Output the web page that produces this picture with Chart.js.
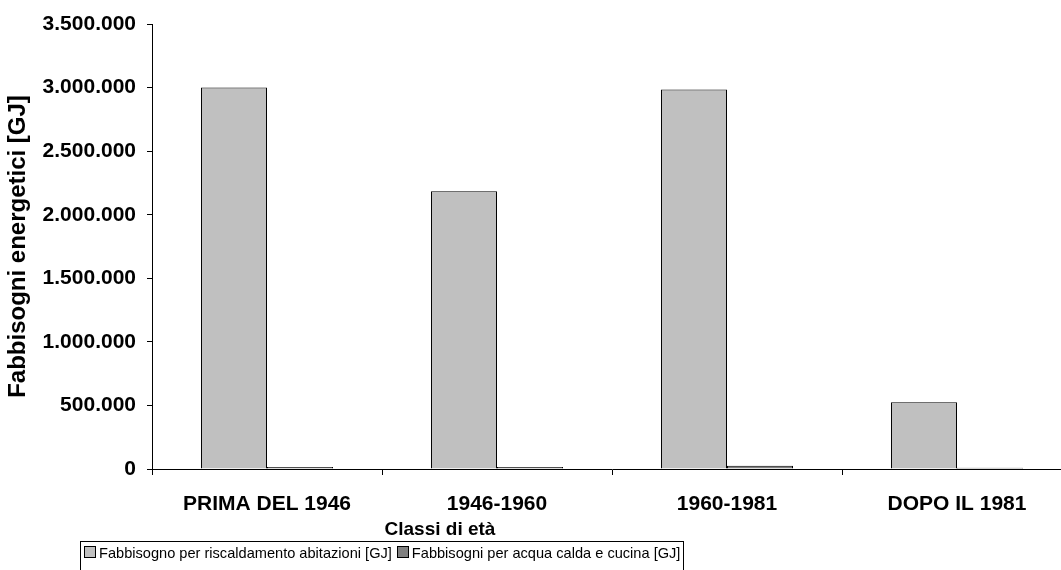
<!DOCTYPE html>
<html>
<head>
<meta charset="utf-8">
<script src="https://cdn.jsdelivr.net/npm/chart.js@4"></script>
<style>
    body { margin: 0; background: #fff; }
    #page { position: relative; width: 1061px; height: 570px; overflow: hidden; font-family: "Liberation Sans", Arial, sans-serif; }
    #wrap { position: absolute; left: 0; top: 0; width: 1072px; height: 570px; }
    #xTitle { position: absolute; top: 518px; left: 340px; width: 200px; text-align: center; font-weight: bold; font-size: 19px; }
    #legend { position: absolute; left: 80px; top: 541px; height: 40px; border: 1px solid #000; padding: 3px 3px; font-size: 14.6px; white-space: nowrap; }
    #legend .sw { display: inline-block; width: 10px; height: 10px; border: 1px solid #000; margin-right: 3px; }
</style>
</head>
<body>
<div id="page">
    <div id="wrap"><canvas id="energyChart"></canvas></div>
    <div id="xTitle">Classi di età</div>
    <div id="legend"></div>
</div>
<script>
const categories = ['PRIMA DEL 1946', '1946-1960', '1960-1981', 'DOPO IL 1981'];
const seriesNames = ['Fabbisogno per riscaldamento abitazioni [GJ]', 'Fabbisogni per acqua calda e cucina [GJ]'];
const riscaldamento = [3000000, 2185000, 2985000, 525000];
const acquaCucina = [16000, 15000, 26000, 9000];
const seriesColors = ['#c0c0c0', '#808080'];
const yTicks = [0, 500000, 1000000, 1500000, 2000000, 2500000, 3000000, 3500000];

function formatIt(v) {
    return String(v).replace(/\B(?=(\d{3})+(?!\d))/g, '.');
}

const legendEl = document.getElementById('legend');
seriesNames.forEach((name, i) => {
    const item = document.createElement('span');
    item.style.marginRight = i === 0 ? '5px' : '0';
    item.innerHTML = '<span class="sw" style="background:' + seriesColors[i] + '"></span>' + name;
    legendEl.appendChild(item);
});

const tickFont = { family: '"Liberation Sans", Arial, sans-serif', size: 21, weight: 'bold' };

var ctx = document.getElementById('energyChart').getContext('2d');
var energyChart = new Chart(ctx, {
    type: 'bar',
    data: {
        labels: categories,
        datasets: [{
            label: seriesNames[0],
            data: riscaldamento,
            backgroundColor: seriesColors[0],
            borderColor: '#000',
            borderWidth: 1
        }, {
            label: seriesNames[1],
            data: acquaCucina,
            backgroundColor: seriesColors[1],
            borderColor: '#000',
            borderWidth: 1
        }]
    },
    options: {
        responsive: true,
        maintainAspectRatio: false,
        animation: false,
        layout: { padding: { top: 24, left: 0, right: 0, bottom: 0 } },
        datasets: { bar: { categoryPercentage: 0.574, barPercentage: 1 } },
        plugins: { legend: { display: false }, tooltip: { enabled: false } },
        scales: {
            x: {
                grid: { offset: true, drawOnChartArea: false, tickLength: 6, color: '#000' },
                border: { color: '#000', width: 1 },
                ticks: { color: '#000', font: tickFont, padding: 17, maxRotation: 0 },
                afterFit: function(scale) { scale.height = 101; }
            },
            y: {
                min: 0,
                max: 3500000,
                afterBuildTicks: function(scale) { scale.ticks = yTicks.map(v => ({ value: v })); },
                grid: { drawOnChartArea: false, tickLength: 5, color: '#000' },
                border: { color: '#000', width: 1 },
                ticks: { color: '#000', font: tickFont, padding: 11, callback: v => formatIt(v) },
                title: {
                    display: true,
                    text: 'Fabbisogni energetici [GJ]',
                    color: '#000',
                    font: { family: '"Liberation Sans", Arial, sans-serif', size: 24, weight: 'bold' },
                    padding: { top: 4, bottom: 0 }
                },
                afterFit: function(scale) { scale.width = 152; }
            }
        }
    }
});
</script>
</body>
</html>
